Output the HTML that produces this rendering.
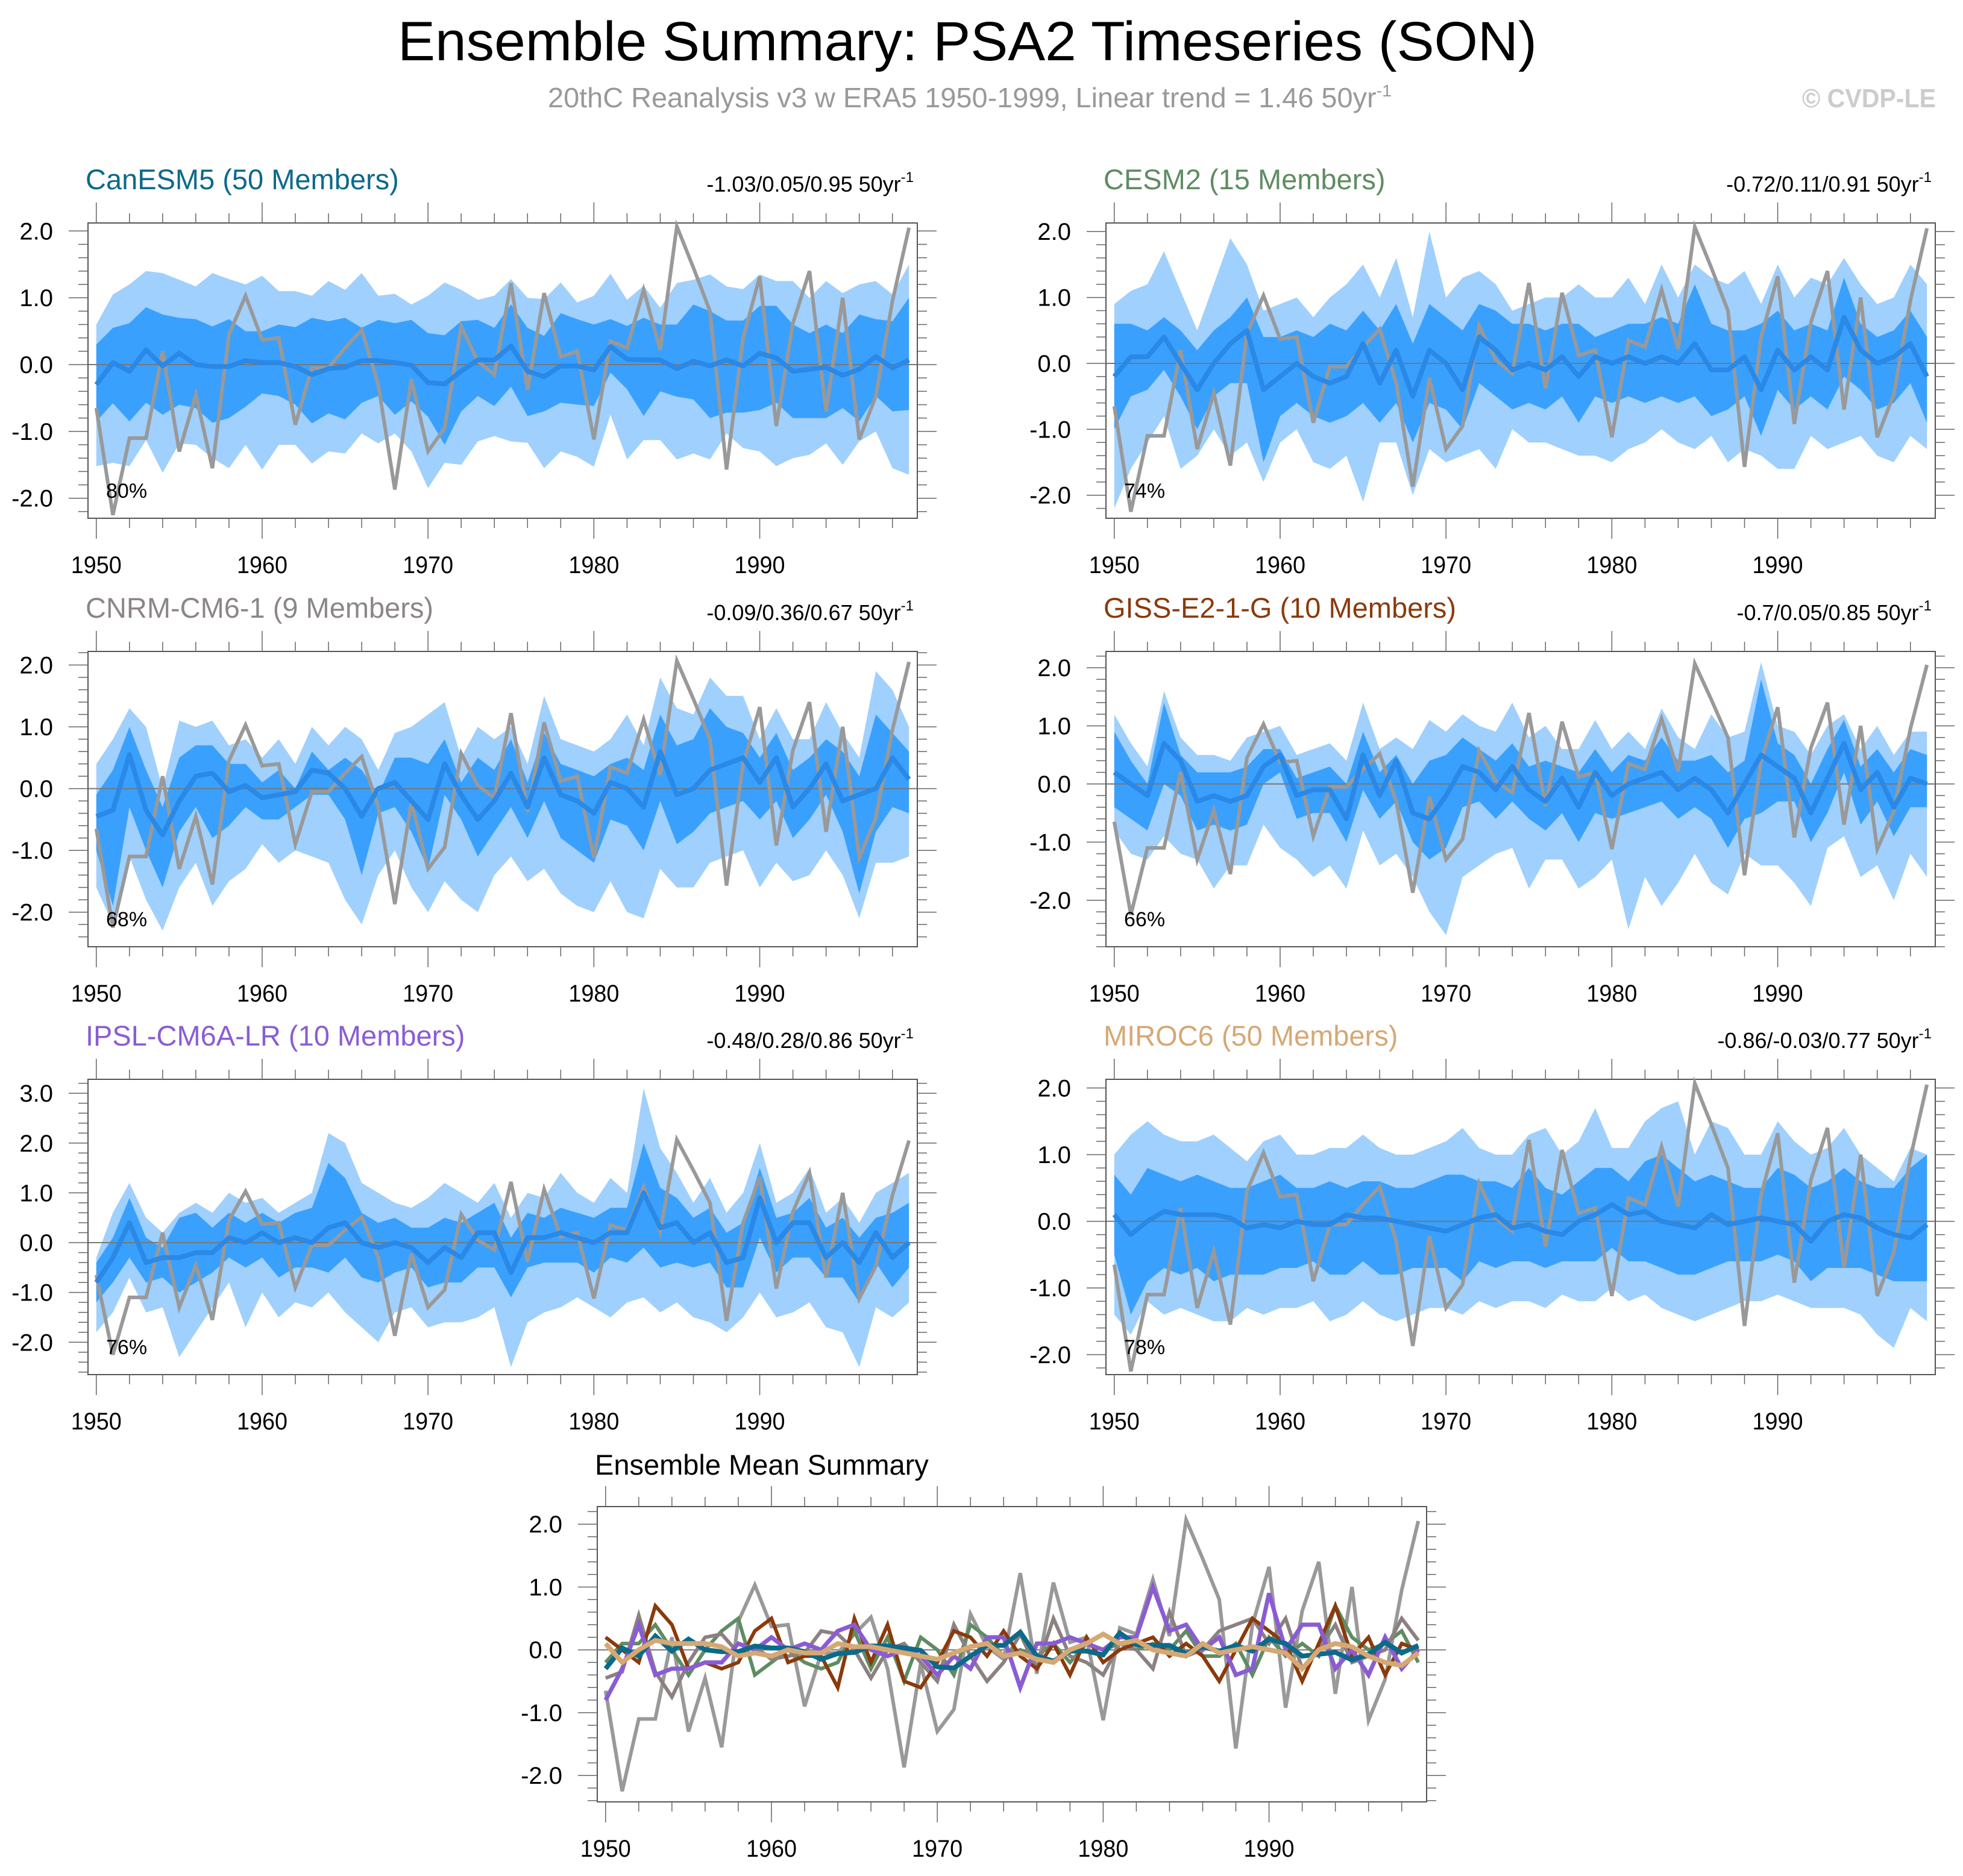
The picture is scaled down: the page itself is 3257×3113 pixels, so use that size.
<!DOCTYPE html>
<html><head><meta charset="utf-8">
<style>
html,body{margin:0;padding:0;background:#fff;}
svg{display:block;font-family:"Liberation Sans",Arial,sans-serif;}
</style></head>
<body>
<svg id="chart" width="3257" height="3113" viewBox="0 0 3257 3113" xmlns="http://www.w3.org/2000/svg">
<rect width="3257" height="3113" fill="#fff"/>
<text x="660" y="100" font-size="92" textLength="1890" lengthAdjust="spacingAndGlyphs" fill="#000">Ensemble Summary: PSA2 Timeseries (SON)</text>
<text x="909" y="178" font-size="46" textLength="1400" lengthAdjust="spacingAndGlyphs" fill="#999">20thC Reanalysis v3 w ERA5 1950-1999, Linear trend = 1.46 50yr<tspan dy="-18" font-size="28">-1</tspan></text>
<text x="2990" y="178" font-size="44" font-weight="bold" textLength="222" lengthAdjust="spacingAndGlyphs" fill="#ccc">© CVDP-LE</text>
</svg>
<script>
const years = Array.from({length:50},(_,i)=>1950+i);
const obs = [-0.65,-2.25,-1.1,-1.1,0.2,-1.3,-0.45,-1.55,0.45,1.03,0.37,0.4,-0.9,-0.05,-0.05,0.25,0.52,-0.3,-1.87,-0.22,-1.3,-0.95,0.57,0.05,-0.15,1.22,-0.38,1.07,0.12,0.2,-1.12,0.35,0.25,1.12,0.22,2.07,1.45,0.8,-1.57,0.4,1.32,-0.92,0.62,1.4,-0.7,1.0,-1.12,-0.47,0.95,2.05];

const canMean=[-0.3,0.03,-0.1,0.22,-0.02,0.17,0,-0.03,-0.03,0.06,0.03,0.03,-0.03,-0.15,-0.06,-0.04,0.06,0.06,0.03,-0.01,-0.27,-0.29,-0.1,0.07,0.07,0.28,-0.1,-0.18,-0.02,-0.02,-0.08,0.27,0.08,0.07,0.07,-0.06,0.05,-0.02,0.07,-0.02,0.17,0.1,-0.1,-0.07,-0.04,-0.16,-0.07,0.12,-0.05,0.07];
const canDarkHi=[0.3,0.55,0.62,0.86,0.75,0.7,0.68,0.57,0.68,0.5,0.5,0.6,0.56,0.7,0.65,0.7,0.55,0.67,0.62,0.67,0.47,0.44,0.65,0.67,0.55,0.9,0.55,0.43,0.77,0.68,0.6,0.68,0.58,0.7,0.6,0.6,0.9,0.8,0.66,0.66,0.88,0.88,0.6,0.47,0.6,0.47,0.75,0.68,0.65,1.0];
const canDarkLo=[-0.85,-0.58,-0.85,-0.57,-0.75,-0.6,-0.65,-0.87,-0.8,-0.63,-0.43,-0.47,-0.6,-0.88,-0.73,-0.82,-0.57,-0.47,-0.75,-0.55,-0.78,-1.2,-0.7,-0.47,-0.62,-0.33,-0.77,-0.7,-0.57,-0.6,-0.62,-0.12,-0.37,-0.77,-0.4,-0.48,-0.52,-0.8,-0.72,-0.72,-0.68,-0.57,-0.8,-0.8,-0.8,-0.65,-0.85,-0.47,-0.7,-0.68];
const canLightHi=[0.6,1.05,1.2,1.4,1.37,1.27,1.17,1.37,1.28,1.2,1.33,1.1,1.1,1.03,1.25,1.12,1.37,1.03,1.06,0.9,1.03,1.23,1.12,0.97,1.03,1.28,1.0,0.98,1.23,0.93,1.03,1.36,0.97,1.18,0.85,1.22,1.27,1.35,1.17,1.13,1.35,1.25,1.25,1.0,1.25,1.07,1.2,1.25,1.05,1.5];
const canLightLo=[-1.52,-1.47,-1.52,-1.13,-1.62,-1.18,-1.2,-1.4,-1.55,-1.2,-1.57,-1.2,-1.2,-1.48,-1.3,-1.33,-1.03,-1.18,-1.03,-1.3,-1.85,-1.47,-1.5,-1.15,-1.07,-1.15,-1.17,-1.55,-1.3,-1.38,-1.53,-0.75,-1.42,-1.13,-1.13,-1.42,-1.33,-1.42,-1.03,-1.25,-1.3,-1.52,-1.4,-1.35,-1.18,-1.5,-1.15,-1.0,-1.55,-1.65];

const cesmMean=[-0.2,0.1,0.1,0.4,0.0,-0.4,0.0,0.3,0.5,-0.4,-0.2,0.0,-0.2,-0.3,-0.2,0.3,-0.3,0.2,-0.5,0.2,0.0,-0.4,0.4,0.2,-0.1,0.0,-0.1,0.1,-0.2,0.1,0.0,0.1,0.0,0.1,0.0,0.3,-0.1,-0.1,0.1,-0.4,0.2,-0.1,0.1,-0.1,0.7,0.2,0.0,0.1,0.3,-0.2];
const cesmDarkHi=[0.6,0.6,0.5,0.7,0.5,0.2,0.5,0.7,1.0,0.4,0.4,0.5,0.4,0.6,0.5,0.8,0.5,0.9,0.3,0.9,0.7,0.5,0.9,0.8,0.6,0.6,0.5,0.6,0.6,0.4,0.5,0.6,0.6,0.7,0.6,1.2,0.6,0.5,0.5,0.6,0.8,0.5,0.6,0.5,1.3,0.6,0.4,0.5,0.8,0.4];
const cesmDarkLo=[-1.0,-0.5,-0.4,-0.1,-0.5,-1.0,-0.5,-0.3,-0.3,-1.5,-0.8,-0.6,-0.8,-0.9,-0.8,-0.6,-0.9,-0.6,-1.2,-0.6,-0.7,-1.0,-0.3,-0.5,-0.7,-0.6,-0.7,-0.5,-0.9,-0.5,-0.6,-0.5,-0.6,-0.5,-0.6,-0.5,-0.8,-0.7,-0.5,-1.1,-0.4,-0.7,-0.5,-0.7,-0.2,-0.4,-0.7,-0.6,-0.3,-0.9];
const cesmLightHi=[0.9,1.1,1.2,1.7,1.1,0.5,1.2,1.9,1.5,0.8,0.9,1.0,0.7,1.0,1.2,1.5,1.0,1.6,0.7,2.0,1.0,1.3,1.4,1.2,0.8,0.9,1.0,1.0,1.2,1.0,1.0,1.3,0.9,1.5,1.0,1.5,1.3,1.2,1.4,0.9,1.5,1.0,1.3,1.2,1.6,1.2,0.9,1.0,1.5,1.2];
const cesmLightLo=[-2.2,-1.6,-1.2,-0.8,-1.6,-1.4,-1.0,-1.4,-1.2,-1.8,-1.2,-1.0,-1.5,-1.6,-1.4,-2.1,-1.2,-1.2,-2.0,-1.3,-1.5,-1.4,-1.3,-1.6,-1.0,-1.2,-1.2,-1.3,-1.4,-1.4,-1.5,-1.3,-1.2,-1.0,-1.2,-1.3,-1.1,-1.5,-1.3,-1.4,-1.6,-1.6,-1.1,-1.3,-1.2,-1.1,-1.4,-1.5,-1.1,-1.3];

const cnrmMean=[-0.45,-0.35,0.55,-0.35,-0.75,-0.2,0.2,0.25,-0.05,0.05,-0.15,-0.1,-0.05,0.3,0.25,0.0,-0.45,0.0,0.1,-0.2,-0.5,0.4,-0.1,-0.5,-0.2,0.25,-0.3,0.5,-0.1,-0.2,-0.4,0.1,0.0,-0.3,0.6,-0.1,0.0,0.3,0.4,0.5,0.1,0.5,-0.3,0.0,0.4,-0.2,-0.1,0.0,0.5,0.15];
const cnrmDarkHi=[-0.1,0.3,1.0,0.3,-0.3,0.5,0.7,0.7,0.4,0.4,0.1,0.3,0.0,0.6,0.3,0.5,0.3,-0.1,0.5,0.5,0.4,0.8,0.1,0.5,0.3,0.8,0.1,0.9,0.4,0.3,0.2,0.4,0.5,0.3,1.2,0.7,0.8,1.3,1.0,0.9,0.5,0.9,0.3,0.5,0.8,0.6,0.2,1.2,0.9,0.6];
const cnrmDarkLo=[-1.0,-1.9,-0.3,-1.0,-1.6,-0.7,-0.3,-0.8,-0.6,-0.3,-0.5,-0.5,-0.3,-0.1,-0.1,-0.5,-1.4,-0.4,-0.3,-0.7,-1.3,-0.1,-0.5,-1.1,-0.7,-0.3,-0.8,-0.2,-0.8,-1.0,-1.2,-0.5,-0.6,-1.0,-0.2,-0.9,-0.7,-0.4,-0.3,-0.2,-0.5,-0.2,-0.8,-0.5,-0.1,-0.7,-1.7,-0.7,-0.3,-0.4];
const cnrmLightHi=[0.4,0.8,1.3,1.0,0.0,1.1,1.0,1.1,0.7,0.8,0.5,0.8,0.4,1.0,0.7,1.0,0.8,0.3,0.9,1.0,1.2,1.4,0.5,1.0,0.8,1.0,0.4,1.5,0.8,0.7,0.6,0.8,1.2,0.7,1.8,1.3,1.2,1.8,1.5,1.5,0.8,1.3,0.8,0.8,1.4,0.9,0.5,1.9,1.6,1.0];
const cnrmLightLo=[-1.6,-2.2,-1.1,-1.8,-2.3,-1.6,-1.2,-1.9,-1.5,-1.3,-0.9,-1.2,-1.0,-1.1,-1.2,-1.8,-2.2,-1.4,-1.0,-1.6,-2.0,-1.5,-1.8,-2.0,-1.4,-1.1,-1.5,-1.3,-1.7,-1.9,-2.0,-1.5,-2.0,-2.1,-1.3,-1.6,-1.6,-1.2,-1.1,-1.0,-1.6,-1.2,-1.5,-1.4,-1.0,-1.4,-2.1,-1.2,-1.2,-1.1];

const gissMean=[0.2,0.0,-0.2,0.7,0.4,-0.3,-0.2,-0.3,-0.2,0.3,0.5,-0.2,-0.1,-0.1,-0.6,0.5,-0.2,0.4,-0.5,-0.6,-0.2,0.3,0.2,-0.1,0.3,-0.1,-0.3,0.1,-0.4,0.2,-0.2,0.0,0.1,0.2,-0.1,0.1,-0.1,-0.5,0.0,0.5,0.3,0.1,-0.5,0.1,0.7,-0.1,0.2,-0.4,0.1,0.0];
const gissDarkHi=[0.9,0.4,0.0,1.4,0.5,0.2,0.2,0.2,0.3,0.6,0.6,0.1,0.2,0.3,0.0,0.9,0.2,0.5,0.0,0.4,0.5,0.8,0.6,0.4,0.7,0.3,0.4,0.3,0.2,0.6,0.2,0.5,0.4,0.8,0.4,0.4,0.5,0.2,0.4,1.8,0.7,0.5,0.0,0.6,1.1,0.3,0.6,0.2,0.6,0.5];
const gissDarkLo=[-0.4,-0.6,-0.8,0.0,-0.2,-0.8,-0.7,-0.8,-0.7,0.0,0.2,-0.6,-0.5,-0.5,-1.0,-0.1,-0.6,-0.3,-1.0,-1.3,-1.1,-0.4,-0.3,-0.6,-0.3,-0.6,-0.8,-0.5,-1.0,-0.5,-0.6,-0.5,-0.4,-0.3,-0.6,-0.4,-0.6,-1.1,-0.6,-0.5,-0.3,-0.3,-1.0,-0.5,0.2,-0.7,-0.3,-0.9,-0.4,-0.4];
const gissLightHi=[1.2,0.7,0.3,1.6,0.8,0.5,0.5,0.4,0.8,0.9,1.0,0.5,0.6,0.7,0.4,1.4,0.6,0.8,0.6,1.1,0.9,1.2,1.0,0.9,1.4,0.8,1.0,0.6,0.6,1.1,0.6,0.9,0.6,1.3,0.8,0.6,1.2,0.8,0.9,2.1,1.0,0.9,0.5,1.0,1.2,0.6,1.0,0.5,0.9,0.9];
const gissLightLo=[-0.8,-1.2,-1.3,-0.9,-1.2,-1.3,-1.8,-1.4,-1.4,-0.7,-1.1,-1.3,-1.6,-1.4,-1.8,-0.8,-1.4,-1.2,-1.6,-2.2,-2.6,-1.6,-1.4,-1.2,-1.1,-1.8,-1.3,-1.3,-1.8,-1.6,-1.3,-2.5,-1.6,-2.1,-1.7,-1.2,-1.7,-1.9,-1.2,-1.4,-1.4,-1.7,-2.1,-1.1,-0.9,-1.6,-1.4,-2.0,-1.2,-1.6];

const ipslMean=[-0.8,-0.3,0.4,-0.4,-0.3,-0.3,-0.2,-0.2,0.1,0.0,0.2,0.0,0.1,0.0,0.3,0.4,0.0,-0.1,0.0,-0.1,-0.4,-0.1,-0.3,0.2,0.2,-0.6,0.1,0.1,0.2,0.1,0.0,0.2,0.2,1.0,0.3,0.4,0.0,0.2,-0.4,-0.3,0.9,0.0,0.4,0.4,-0.3,0.0,-0.4,0.2,-0.3,0.0];
const ipslDarkHi=[-0.4,0.1,0.9,0.1,-0.1,0.5,0.6,0.3,0.6,0.4,0.6,0.4,0.6,0.7,1.6,1.3,0.6,0.4,0.5,0.3,0.3,0.5,0.4,0.6,0.8,0.1,0.6,0.5,0.7,0.6,0.5,0.7,0.7,2.0,1.1,0.9,0.5,0.7,0.2,0.4,1.5,0.5,0.6,0.9,0.3,0.5,0.1,0.5,0.6,0.8];
const ipslDarkLo=[-1.2,-0.8,-0.3,-0.8,-0.7,-1.0,-0.8,-0.6,-0.3,-0.5,-0.3,-0.7,-0.5,-0.5,-0.6,-0.3,-0.7,-0.8,-0.6,-0.5,-0.9,-0.8,-0.8,-0.5,-0.5,-1.1,-0.5,-0.4,-0.4,-0.4,-0.6,-0.3,-0.4,-0.1,-0.5,-0.4,-0.5,-0.4,-0.9,-0.9,0.1,-0.6,-0.3,-0.3,-0.7,-0.7,-1.2,-0.4,-0.9,-0.5];
const ipslLightHi=[-0.3,0.6,1.2,0.5,0.2,0.6,0.8,0.6,1.0,0.8,0.9,0.6,0.8,1.0,2.2,2.0,1.2,1.0,0.8,0.7,0.9,1.2,1.0,0.8,1.2,0.5,1.0,0.9,1.4,1.0,0.8,1.3,1.0,3.1,1.9,1.4,0.8,1.3,0.6,1.0,2.0,0.8,1.0,1.5,0.6,0.9,0.4,1.0,1.2,1.4];
const ipslLightLo=[-1.8,-1.4,-0.7,-1.4,-1.3,-2.3,-1.8,-1.3,-0.8,-1.7,-1.0,-1.5,-1.2,-1.3,-1.0,-1.4,-1.7,-2.0,-1.4,-1.3,-1.7,-1.6,-1.6,-1.5,-1.3,-2.5,-1.6,-1.4,-1.3,-1.1,-1.3,-1.5,-1.2,-1.1,-1.4,-1.2,-1.5,-1.6,-1.8,-1.5,-1.0,-1.5,-1.4,-1.2,-1.7,-1.8,-2.5,-1.3,-1.5,-1.2];

const mirocMean=[0.1,-0.2,0.0,0.15,0.1,0.1,0.1,0.05,-0.1,-0.05,-0.1,0.0,-0.05,-0.05,0.1,0.05,0.05,0.0,-0.05,-0.1,-0.15,-0.05,0.05,0.1,-0.1,-0.05,-0.15,-0.2,0.0,0.1,0.25,0.1,0.15,0.0,-0.05,-0.1,0.1,-0.05,0.0,0.05,0.0,-0.05,-0.3,0.0,0.1,0.05,-0.1,-0.2,-0.25,-0.05];
const mirocDarkHi=[0.7,0.4,0.8,0.7,0.6,0.7,0.6,0.5,0.5,0.6,0.7,0.5,0.5,0.6,0.5,0.6,0.6,0.5,0.5,0.6,0.7,0.7,0.6,0.6,0.5,0.8,0.5,0.4,0.6,0.8,0.8,0.6,0.9,1.0,0.8,0.6,0.7,0.6,0.5,0.5,0.8,0.7,0.5,0.6,0.8,0.6,0.5,0.5,0.8,1.0];
const mirocDarkLo=[-0.5,-1.4,-0.9,-0.7,-0.8,-0.7,-0.9,-0.8,-0.8,-0.8,-0.7,-0.7,-0.6,-0.8,-0.8,-0.6,-0.8,-0.8,-0.7,-0.7,-0.7,-0.9,-0.6,-0.7,-0.6,-0.6,-0.7,-0.6,-0.6,-0.6,-0.4,-0.6,-0.6,-0.7,-0.8,-0.8,-0.7,-0.6,-0.6,-0.6,-0.5,-0.6,-0.9,-0.7,-0.7,-0.7,-0.8,-0.9,-0.9,-0.9];
const mirocLightHi=[1.0,1.3,1.5,1.3,1.2,1.2,1.3,1.1,0.9,1.2,1.3,1.0,1.0,1.1,1.1,1.3,1.1,1.0,1.0,1.1,1.2,1.4,1.1,1.0,1.0,1.3,1.4,1.0,1.2,1.7,1.1,1.1,1.5,1.7,1.8,1.0,1.5,1.4,1.0,1.0,1.5,1.2,1.0,1.1,1.4,1.0,0.8,0.6,1.1,1.0];
const mirocLightLo=[-1.4,-1.7,-1.2,-1.4,-1.3,-1.4,-1.5,-1.5,-1.3,-1.4,-1.3,-1.3,-1.2,-1.5,-1.4,-1.2,-1.4,-1.5,-1.4,-1.3,-1.3,-1.4,-1.2,-1.3,-1.2,-1.2,-1.3,-1.1,-1.2,-1.2,-1.0,-1.2,-1.1,-1.3,-1.4,-1.5,-1.4,-1.3,-1.2,-1.2,-1.1,-1.2,-1.3,-1.3,-1.3,-1.4,-1.7,-1.9,-1.3,-1.5];

const xTickLabels=[1950,1960,1970,1980,1990];
const yTicks2=[-2,-1,0,1,2];
const yTicks3=[-2,-1,0,1,2,3];

const NS="http://www.w3.org/2000/svg";
const svg=document.getElementById('chart');
function el(tag,attrs,parent){const e=document.createElementNS(NS,tag);for(const k in attrs)e.setAttribute(k,attrs[k]);(parent||svg).appendChild(e);return e;}

const panels=[
 {key:'canesm5',title:'CanESM5 (50 Members)',color:'#0b6a8a',trend:'-1.03/0.05/0.95 50yr',pct:'80%',x:146,y:370,ymin:-2.30,ymax:2.12,ticks:yTicks2,mean:canMean,dh:canDarkHi,dl:canDarkLo,lh:canLightHi,ll:canLightLo},
 {key:'cesm2',title:'CESM2 (15 Members)',color:'#5f8c62',trend:'-0.72/0.11/0.91 50yr',pct:'74%',x:1835,y:370,ymin:-2.35,ymax:2.13,ticks:yTicks2,mean:cesmMean,dh:cesmDarkHi,dl:cesmDarkLo,lh:cesmLightHi,ll:cesmLightLo},
 {key:'cnrm-cm6-1',title:'CNRM-CM6-1 (9 Members)',color:'#8c8686',trend:'-0.09/0.36/0.67 50yr',pct:'68%',x:146,y:1081,ymin:-2.56,ymax:2.22,ticks:yTicks2,mean:cnrmMean,dh:cnrmDarkHi,dl:cnrmDarkLo,lh:cnrmLightHi,ll:cnrmLightLo},
 {key:'giss-e2-1-g',title:'GISS-E2-1-G (10 Members)',color:'#8b3a0c',trend:'-0.7/0.05/0.85 50yr',pct:'66%',x:1835,y:1081,ymin:-2.8,ymax:2.28,ticks:yTicks2,mean:gissMean,dh:gissDarkHi,dl:gissDarkLo,lh:gissLightHi,ll:gissLightLo},
 {key:'ipsl-cm6a-lr',title:'IPSL-CM6A-LR (10 Members)',color:'#8a5cd4',trend:'-0.48/0.28/0.86 50yr',pct:'76%',x:146,y:1791,ymin:-2.65,ymax:3.28,ticks:yTicks3,mean:ipslMean,dh:ipslDarkHi,dl:ipslDarkLo,lh:ipslLightHi,ll:ipslLightLo},
 {key:'miroc6',title:'MIROC6 (50 Members)',color:'#d6a874',trend:'-0.86/-0.03/0.77 50yr',pct:'78%',x:1835,y:1791,ymin:-2.3,ymax:2.13,ticks:yTicks2,mean:mirocMean,dh:mirocDarkHi,dl:mirocDarkLo,lh:mirocLightHi,ll:mirocLightLo}
];
const W=1376,H=490;

function axes(g,p){
  const sx=v=>p.x+(v-1949.5)/50*W;
  const sy=v=>p.y+H-(v-p.ymin)/(p.ymax-p.ymin)*H;
  return {sx,sy};
}
function frame(g,p,sx,sy){
  const z=el('line',{x1:p.x,x2:p.x+W,y1:sy(0),y2:sy(0),stroke:'#777','stroke-width':2},g);
  
  
  el('rect',{x:p.x,y:p.y,width:W,height:H,fill:'none',stroke:'#555','stroke-width':2},g);
  for(let yr=1950;yr<=1999;yr+=2){
    const major=yr%10===0, L=major?34:16, x=sx(yr);
    el('line',{x1:x,x2:x,y1:p.y,y2:p.y-L,stroke:'#666','stroke-width':1.5},g);
    el('line',{x1:x,x2:x,y1:p.y+H,y2:p.y+H+L,stroke:'#666','stroke-width':1.5},g);
  }
  xTickLabels.forEach(yr=>{
    const t=el('text',{x:sx(yr),y:p.y+H+91,'font-size':40,'text-anchor':'middle',fill:'#000',textLength:84,lengthAdjust:'spacingAndGlyphs'},g);
    t.textContent=yr;
    
    
  });
  const lo=Math.ceil(p.ymin/0.2-1e-6), hi=Math.floor(p.ymax/0.2+1e-6);
  for(let k=lo;k<=hi;k++){
    const v=k*0.2, major=Math.abs(v-Math.round(v))<1e-6, L=major?32:16, y=sy(v);
    el('line',{x1:p.x,x2:p.x-L,y1:y,y2:y,stroke:'#666','stroke-width':1.5},g);
    el('line',{x1:p.x+W,x2:p.x+W+L,y1:y,y2:y,stroke:'#666','stroke-width':1.5},g);
  }
  p.ticks.forEach(v=>{
    const t=el('text',{x:p.x-58,y:sy(v)+14,'font-size':40,'text-anchor':'end',fill:'#000'},g);
    t.textContent=v.toFixed(1);
    
    
  });
}
function pathOf(arr,sx,sy){return arr.map((v,i)=>(i?'L':'M')+sx(years[i]).toFixed(1)+','+sy(v).toFixed(1)).join(' ');}
function bandOf(hi,lo,sx,sy){
  let d=hi.map((v,i)=>(i?'L':'M')+sx(years[i]).toFixed(1)+','+sy(v).toFixed(1)).join(' ');
  for(let i=lo.length-1;i>=0;i--)d+=' L'+sx(years[i]).toFixed(1)+','+sy(lo[i]).toFixed(1);
  return d+' Z';
}

panels.forEach(p=>{
  const g=el('g',{});
  
  
  const {sx,sy}=axes(g,p);
  const lb=el('path',{d:bandOf(p.lh,p.ll,sx,sy),fill:'#a0d0fd'},g);
  
  
  const db=el('path',{d:bandOf(p.dh,p.dl,sx,sy),fill:'#3aa0fd'},g);
  
  
  frame(g,p,sx,sy);
  const ob=el('path',{d:pathOf(obs,sx,sy),fill:'none',stroke:'#999','stroke-width':6,'stroke-linejoin':'miter'},g);
  
  
  const mn=el('path',{d:pathOf(p.mean,sx,sy),fill:'none',stroke:'#2a88e6','stroke-width':8,'stroke-linejoin':'round'},g);
  
  
  const t=el('text',{x:p.x-4,y:p.y-56,'font-size':47,fill:p.color},g);
  t.textContent=p.title;
  
  
  const tr=el('text',{x:p.x+W-6,y:p.y-52,'font-size':36,'text-anchor':'end',fill:'#000'},g);
  tr.textContent=p.trend;
  const sup=el('tspan',{dy:-16,'font-size':24},tr);sup.textContent='-1';
  
  
  const pc=el('text',{x:p.x+30,y:p.y+H-34,'font-size':34,fill:'#000'},g);
  pc.textContent=p.pct;
  
  
});

const bp={x:991,y:2500,ymin:-2.42,ymax:2.28,ticks:yTicks2};
const bg=el('g',{});


const bax=axes(bg,bp);
frame(bg,bp,bax.sx,bax.sy);
const bo=el('path',{d:pathOf(obs,bax.sx,bax.sy),fill:'none',stroke:'#999','stroke-width':6},bg);


const bColors=['#0b6a8a','#5f8c62','#8c8080','#8b3a0c','#8a5cd4','#d6a874'];
const bWidths=[8,6,6,6,7,8];
[1,2,3,4,0,5].forEach(i=>{
  const p=panels[i];
  const l=el('path',{d:pathOf(p.mean,bax.sx,bax.sy),fill:'none',stroke:bColors[i],'stroke-width':bWidths[i]},bg);
  
  
});
const bt=el('text',{x:987,y:2447,'font-size':47,fill:'#000'},bg);
bt.textContent='Ensemble Mean Summary';


</script>
</body></html>
